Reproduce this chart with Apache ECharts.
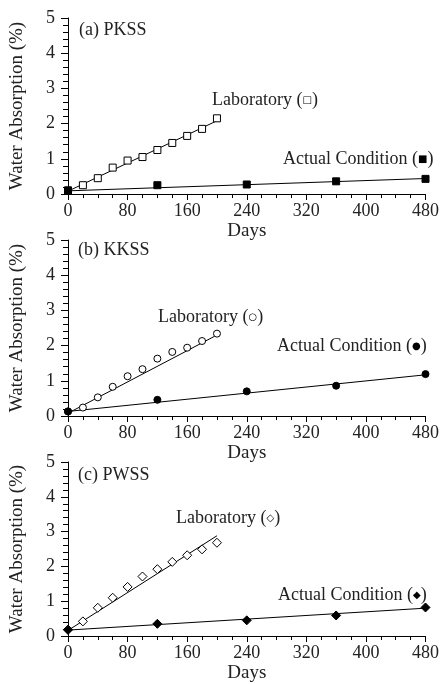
<!DOCTYPE html>
<html>
<head>
<meta charset="utf-8">
<script src="https://cdn.jsdelivr.net/npm/echarts@6/dist/echarts.min.js"></script>
<style>html,body{margin:0;padding:0;background:#fff;}#c{width:442px;height:684px;}</style>
</head>
<body>
<div id="c"></div>
<script>
// ---- data ----
const labDays = [0, 20, 40, 60, 80, 100, 120, 140, 160, 180, 200];
const actDays = [0, 120, 240, 360, 480];
const fitLabDays = [0, 200];
const fitActDays = [0, 480];

const pkssLab = [0.10, 0.25, 0.45, 0.75, 0.95, 1.05, 1.25, 1.45, 1.65, 1.85, 2.15];
const pkssAct = [0.10, 0.25, 0.27, 0.36, 0.43];
const pkssLabFit = [0.08, 2.08];
const pkssActFit = [0.09, 0.44];

const kkssLab = [0.13, 0.24, 0.53, 0.83, 1.13, 1.33, 1.63, 1.82, 1.94, 2.13, 2.34];
const kkssAct = [0.13, 0.46, 0.70, 0.86, 1.19];
const kkssLabFit = [0.08, 2.30];
const kkssActFit = [0.13, 1.17];

const pwssLab = [0.18, 0.42, 0.81, 1.10, 1.41, 1.71, 1.92, 2.13, 2.32, 2.49, 2.68];
const pwssAct = [0.18, 0.35, 0.45, 0.59, 0.82];
const pwssLabFit = [0.16, 2.88];
const pwssActFit = [0.17, 0.80];

const panelTitles = ['(a) PKSS', '(b) KKSS', '(c) PWSS'];
const xTicks = [0, 80, 160, 240, 320, 400, 480];
const yTicks = [0, 1, 2, 3, 4, 5];
const labSym = ['□', '○', '◇'];
const actSym = ['■', '●', '◆'];

// ---- chart ----
const FONT = '"Liberation Serif", "DejaVu Serif", serif';
const TXT = '#222';
const grids = [
  {left: 68, width: 363, top: 18, height: 176},
  {left: 68, width: 363, top: 240, height: 176},
  {left: 68, width: 363, top: 462, height: 176}
];
const panels = [
  {lab: pkssLab, act: pkssAct, labFit: pkssLabFit, actFit: pkssActFit, symbol: 'rect', labSize: 7, actSize: 7},
  {lab: kkssLab, act: kkssAct, labFit: kkssLabFit, actFit: kkssActFit, symbol: 'circle', labSize: 7, actSize: 7},
  {lab: pwssLab, act: pwssAct, labFit: pwssLabFit, actFit: pwssActFit, symbol: 'diamond', labSize: 9, actSize: 9}
];

const xAxes = grids.map((g, i) => ({
  type: 'value', gridIndex: i, min: xTicks[0], max: xTicks[xTicks.length - 1], interval: xTicks[1] - xTicks[0],
  name: 'Days', nameLocation: 'middle', nameGap: 28,
  nameTextStyle: {fontFamily: FONT, fontSize: 19, color: TXT},
  axisLine: {show: true, onZero: false, lineStyle: {color: '#000', width: 1}},
  axisTick: {show: true, inside: false, length: 6, lineStyle: {color: '#000'}},
  minorTick: {show: true, splitNumber: 4, length: 4, lineStyle: {color: '#000'}},
  axisLabel: {fontFamily: FONT, fontSize: 18, color: TXT, margin: 8, showMaxLabel: true},
  splitLine: {show: false}
}));
const yAxes = grids.map((g, i) => ({
  type: 'value', gridIndex: i, min: yTicks[0], max: yTicks[yTicks.length - 1], interval: 1,
  name: 'Water Absorption (%)', nameLocation: 'middle', nameGap: 41, nameRotate: 90,
  nameTextStyle: {fontFamily: FONT, fontSize: 19, color: TXT},
  axisLine: {show: true, onZero: false, lineStyle: {color: '#000', width: 1}},
  axisTick: {show: true, inside: false, length: 7, lineStyle: {color: '#000'}},
  minorTick: {show: true, splitNumber: 5, length: 5, lineStyle: {color: '#000'}},
  axisLabel: {fontFamily: FONT, fontSize: 18, color: TXT, margin: 13},
  splitLine: {show: false}
}));

const series = [];
panels.forEach((p, i) => {
  series.push({
    type: 'line', xAxisIndex: i, yAxisIndex: i, showSymbol: false, symbol: 'none', silent: true,
    data: fitLabDays.map((d, k) => [d, p.labFit[k]]),
    lineStyle: {color: '#000', width: 1}, z: 2
  });
  series.push({
    type: 'line', xAxisIndex: i, yAxisIndex: i, showSymbol: false, symbol: 'none', silent: true,
    data: fitActDays.map((d, k) => [d, p.actFit[k]]),
    lineStyle: {color: '#000', width: 1}, z: 2
  });
  series.push({
    type: 'scatter', xAxisIndex: i, yAxisIndex: i, symbol: p.symbol, symbolSize: p.labSize,
    data: labDays.map((d, k) => [d, p.lab[k]]),
    itemStyle: {color: '#fff', borderColor: '#000', borderWidth: 1, opacity: 1}, z: 3
  });
  series.push({
    type: 'scatter', xAxisIndex: i, yAxisIndex: i, symbol: p.symbol, symbolSize: p.actSize,
    data: actDays.map((d, k) => [d, p.act[k]]),
    itemStyle: {color: '#000', borderColor: '#000', borderWidth: 1, opacity: 1}, z: 4
  });
});

function richTxt(x, y, main, sym) {
  return {type: 'text', x: x, y: y, z: 10,
    style: {
      text: '{m|' + main + ' (}{s|' + sym + '}{m|)}',
      rich: {
        m: {fontFamily: FONT, fontSize: 18, fill: TXT, color: TXT},
        s: {fontFamily: '"DejaVu Sans", sans-serif', fontSize: 10, fill: '#000', color: '#000'}
      },
      verticalAlign: 'middle', textVerticalAlign: 'middle'
    }};
}
const labPos = [[212, 100], [158, 317], [176, 518]];
const actPos = [[283, 159], [277, 346], [278, 595]];
const titlePos = [[79, 30], [78, 250], [78, 475]];
const graphics = [];
for (let i = 0; i < 3; i++) {
  graphics.push({type: 'text', x: titlePos[i][0], y: titlePos[i][1], z: 10,
    style: {text: panelTitles[i], fontFamily: FONT, fontSize: 18, fill: TXT, verticalAlign: 'middle'}});
  graphics.push(richTxt(labPos[i][0], labPos[i][1], 'Laboratory', labSym[i]));
  graphics.push(richTxt(actPos[i][0], actPos[i][1], 'Actual Condition', actSym[i]));
}

const chart = echarts.init(document.getElementById('c'), null, {renderer: 'canvas'});
chart.setOption({
  animation: false,
  backgroundColor: '#fff',
  grid: grids,
  xAxis: xAxes,
  yAxis: yAxes,
  series: series,
  graphic: graphics
});
</script>
</body>
</html>
